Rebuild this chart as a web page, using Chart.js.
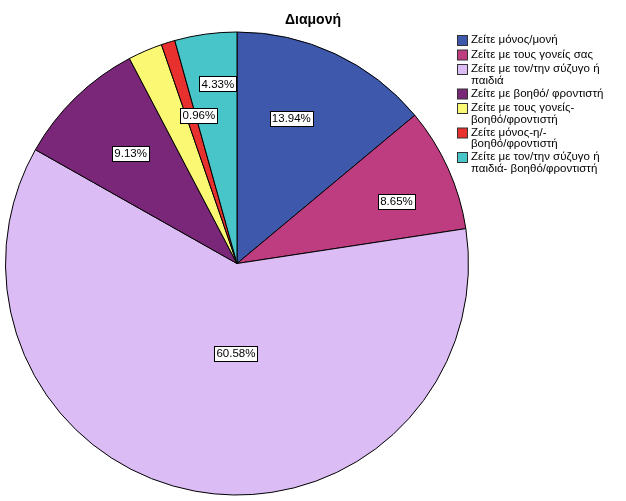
<!DOCTYPE html>
<html>
<head>
<meta charset="utf-8">
<script src="https://cdn.jsdelivr.net/npm/chart.js@4/dist/chart.umd.min.js"></script>
<style>
  html, body { margin: 0; padding: 0; background: #fff; }
  #wrap { width: 626px; height: 501px; position: relative; }
</style>
</head>
<body>
<div id="wrap"><canvas id="pieChart"></canvas></div>
<script>
const chartTitle = "Διαμονή";
const categories = [
  ["Ζείτε μόνος/μονή"],
  ["Ζείτε με τους γονείς σας"],
  ["Ζείτε με τον/την σύζυγο ή", "παιδιά"],
  ["Ζείτε με βοηθό/ φροντιστή"],
  ["Ζείτε με τους γονείς-", "βοηθό/φροντιστή"],
  ["Ζείτε μόνος-η/-", "βοηθό/φροντιστή"],
  ["Ζείτε με τον/την σύζυγο ή", "παιδιά- βοηθό/φροντιστή"]
];
const percents = [13.94, 8.65, 60.58, 9.13, 2.40, 0.96, 4.33];
const shownLabels = ["13.94%", "8.65%", "60.58%", "9.13%", null, "0.96%", "4.33%"];
const colors = ["#3E58AC", "#BE3C80", "#DCBCF4", "#7B2779", "#FBF873", "#E8312F", "#48C5C8"];

// radial position of each value box, as fraction of radius (SPSS-like placement)
const labelRadius = [0.67, 0.74, 0.39, 0.66, 0.66, 0.66, 0.78];
const labelAngleShift = [-0.08, 0.05, -0.17, 0, 0, 0.05, 0.03];

const FONT = 'Arial, "Liberation Sans", sans-serif';

const boxLabels = {
  id: 'boxLabels',
  afterDatasetsDraw(chart) {
    const ctx = chart.ctx;
    const meta = chart.getDatasetMeta(0);
    ctx.save();
    ctx.font = '11.5px ' + FONT;
    ctx.textBaseline = 'middle';
    ctx.textAlign = 'center';
    meta.data.forEach((arc, i) => {
      const txt = shownLabels[i];
      if (!txt) return;
      const p = arc.getProps(['x', 'y', 'startAngle', 'endAngle', 'outerRadius'], true);
      const a = (p.startAngle + p.endAngle) / 2 + labelAngleShift[i];
      const r = p.outerRadius * labelRadius[i];
      const x = p.x + Math.cos(a) * r;
      const y = p.y + Math.sin(a) * r;
      const w = Math.round(ctx.measureText(txt).width + 4);
      const h = 15;
      const bx = Math.round(x - w / 2) + 0.5, by = Math.round(y - h / 2) + 0.5;
      ctx.fillStyle = '#fff';
      ctx.fillRect(bx, by, w, h);
      ctx.strokeStyle = '#000';
      ctx.lineWidth = 1;
      ctx.strokeRect(bx, by, w, h);
      ctx.fillStyle = '#000';
      ctx.fillText(txt, x, y + 0.5);
    });
    ctx.restore();
  }
};

const sideLegend = {
  id: 'sideLegend',
  afterDraw(chart) {
    const ctx = chart.ctx;
    ctx.save();
    // title centred across the whole canvas
    ctx.font = 'bold 14px ' + FONT;
    ctx.textAlign = 'center';
    ctx.textBaseline = 'middle';
    ctx.fillStyle = '#000';
    ctx.fillText(chartTitle, chart.width / 2, 20);

    ctx.font = '11.5px ' + FONT;
    ctx.textAlign = 'left';
    let y = 40;
    const lineH = 11.5;
    categories.forEach((lines, i) => {
      ctx.fillStyle = colors[i];
      ctx.fillRect(457.5, y - 4.5, 10, 10);
      ctx.strokeStyle = '#333';
      ctx.lineWidth = 1;
      ctx.strokeRect(457.5, y - 4.5, 10, 10);
      ctx.fillStyle = '#000';
      lines.forEach((t, j) => ctx.fillText(t, 471, y + j * lineH));
      y += lines.length * lineH + (lines.length > 1 ? 1.5 : 3);
    });
    ctx.restore();
  }
};

new Chart(document.getElementById('pieChart'), {
  type: 'pie',
  data: {
    labels: categories.map(l => l.join(' ')),
    datasets: [{
      data: percents,
      backgroundColor: colors,
      borderColor: '#000',
      borderWidth: 1
    }]
  },
  options: {
    responsive: true,
    maintainAspectRatio: false,
    animation: false,
    layout: { padding: { top: 31, right: 157, bottom: 5, left: 5 } },
    plugins: {
      legend: { display: false },
      tooltip: { enabled: false },
      title: { display: false }
    }
  },
  plugins: [boxLabels, sideLegend]
});
</script>
</body>
</html>
